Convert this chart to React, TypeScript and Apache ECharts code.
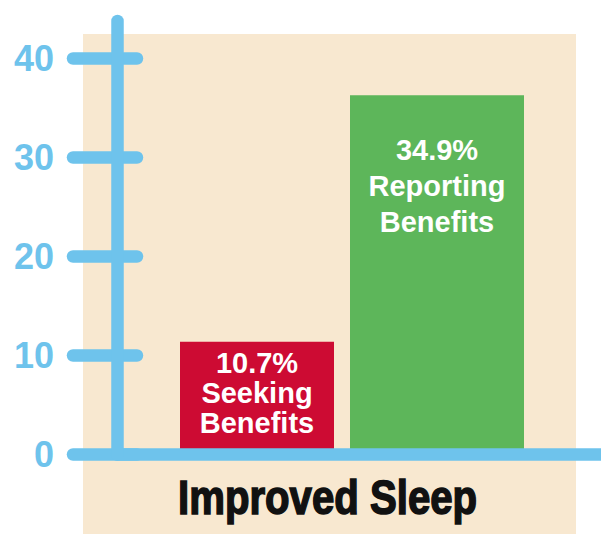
import React, { useEffect, useRef } from 'react';
import * as echarts from 'echarts';

const categories = ['Seeking Benefits', 'Reporting Benefits'];
const barHeights = [11.4, 36.3];
const percentLabels = ['10.7%', '34.9%'];
const captionLines = [['Seeking', 'Benefits'], ['Reporting', 'Benefits']];
const yTicks = [0, 10, 20, 30, 40];
const groupLabel = 'Improved Sleep';

const BLUE = '#6EC3EC';
const RED = '#CD0B33';
const GREEN = '#5DB65A';
const BEIGE = '#F8E8D0';
const SANS = "'Liberation Sans', Arial, sans-serif";

export default function App() {
  const ref = useRef<HTMLDivElement>(null);
  useEffect(() => {
    if (!ref.current) return;
    const chart = echarts.init(ref.current, null, { renderer: 'svg' });
    const yMin = yTicks[0];
    const yMax = yTicks[yTicks.length - 1];
    const yInt = yTicks[1] - yTicks[0];
    const labelFmt = (i: number) => `${percentLabels[i]}\n${captionLines[i].join('\n')}`;
    const barLabel = {
      show: true,
      position: 'insideTop',
      color: '#ffffff',
      fontSize: 29,
      fontWeight: 'bold',
      fontFamily: SANS,
    };
    chart.setOption({
      animation: false,
      graphic: [
        { type: 'rect', left: 83, top: 34, shape: { width: 493, height: 500 }, style: { fill: BEIGE }, z: -10 },
        {
          type: 'text', x: 178, y: 472, scaleX: 0.82, z: 10,
          style: {
            text: groupLabel, fill: '#111', stroke: '#111', lineWidth: 1.6,
            font: `bold 49px ${SANS}`, verticalAlign: 'top', align: 'left',
          },
        },
      ],
      grid: [
        { left: 180, width: 344, top: 58.5, bottom: 79.5 },
        { left: 117, right: 0, top: 21, bottom: 79.5 },
        { left: 73, width: 64, top: 58.5, bottom: 79.5 },
      ],
      xAxis: [
        { gridIndex: 0, type: 'category', data: categories, show: false },
        {
          gridIndex: 1, type: 'category', data: categories, z: 5,
          axisLine: { show: true, lineStyle: { color: BLUE, width: 12.5 } },
          axisTick: { show: false }, axisLabel: { show: false },
        },
        { gridIndex: 2, type: 'value', show: false },
      ],
      yAxis: [
        { gridIndex: 0, type: 'value', min: yMin, max: yMax, interval: yInt, show: false },
        {
          gridIndex: 1, type: 'value', min: yMin, max: 43.8, z: 6,
          axisLine: { show: true, lineStyle: { color: BLUE, width: 12.5, cap: 'round' } },
          axisTick: { show: false }, axisLabel: { show: false }, splitLine: { show: false },
        },
        {
          gridIndex: 2, type: 'value', min: yMin, max: yMax, interval: yInt, z: 4,
          axisLine: { show: false }, axisTick: { show: false },
          axisLabel: { show: true, color: BLUE, fontSize: 36, fontWeight: 'bold', fontFamily: SANS, margin: 19 },
          splitLine: { show: true, lineStyle: { color: BLUE, width: 12.5, cap: 'round' } },
        },
      ],
      series: [
        {
          type: 'bar', xAxisIndex: 0, yAxisIndex: 0,
          data: [barHeights[0], '-'], barWidth: 156, barGap: '-100%',
          itemStyle: { color: RED },
          label: { ...barLabel, distance: 6.5, lineHeight: 30, formatter: () => labelFmt(0) },
        },
        {
          type: 'bar', xAxisIndex: 0, yAxisIndex: 0,
          data: ['-', barHeights[1]], barWidth: 176, barGap: '-100%',
          itemStyle: { color: GREEN },
          label: { ...barLabel, distance: 37, lineHeight: 36, formatter: () => labelFmt(1) },
        },
      ],
    });
    return () => chart.dispose();
  }, []);
  return <div ref={ref} style={{ position: 'absolute', left: 0, top: 0, width: 601, height: 534 }} />;
}
